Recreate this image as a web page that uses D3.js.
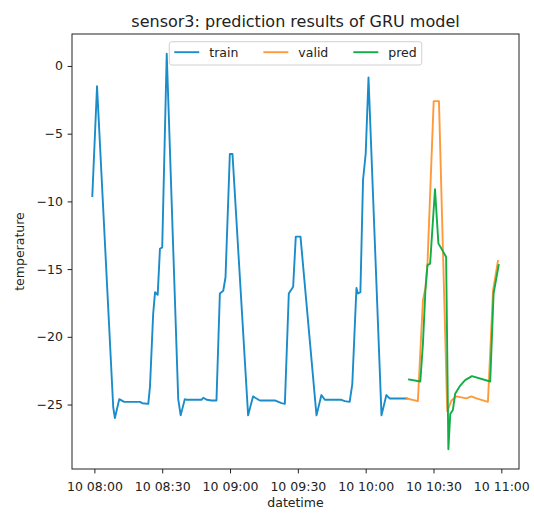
<!DOCTYPE html>
<html>
<head>
<meta charset="utf-8">
<script src="https://cdn.jsdelivr.net/npm/d3@7"></script>
<style>
  html, body { margin: 0; padding: 0; background: #fff; }
  svg { display: block; font-family: "DejaVu Sans", sans-serif; }
</style>
</head>
<body>
<svg id="chart" width="534" height="513"></svg>
<script>
// series (times on day 10, temperature)
const trainTimes = ["07:59:05","08:01:10","08:08:20","08:09:05","08:11:00","08:13:10","08:20:10","08:21:10","08:23:50","08:24:35",
  "08:26:00","08:26:50","08:28:00","08:29:00","08:30:00","08:32:00","08:37:05","08:38:10","08:40:00","08:40:50",
  "08:47:25","08:48:10","08:49:40","08:51:50","08:54:00","08:55:30","08:57:00","08:58:00","08:59:55","09:01:05",
  "09:08:00","09:10:10","09:13:10","09:19:50","09:22:45","09:24:15","09:26:00","09:27:55","09:29:05","09:31:10",
  "09:38:15","09:40:25","09:41:55","09:49:15","09:50:45","09:52:55","09:54:05","09:55:55","09:56:35","09:57:40",
  "09:58:50","10:00:00","10:01:15","10:07:00","10:09:10","10:10:35","10:18:15"];
const trainValues = [-9.6,-1.5,-25.2,-26.0,-24.6,-24.8,-24.8,-24.9,-24.95,-23.7,
  -18.3,-16.7,-16.9,-13.5,-13.4,0.9,-24.6,-25.8,-24.6,-24.65,
  -24.65,-24.5,-24.65,-24.7,-24.7,-16.8,-16.6,-15.6,-6.5,-6.5,
  -25.8,-24.4,-24.7,-24.7,-24.9,-24.95,-16.8,-16.3,-12.6,-12.6,
  -25.8,-24.3,-24.65,-24.65,-24.75,-24.8,-23.5,-16.4,-16.8,-16.7,
  -8.4,-6.5,-0.85,-25.8,-24.3,-24.55,-24.55];

const validTimes = ["10:18:15","10:23:05","10:25:20","10:26:25","10:27:20","10:30:05","10:32:25","10:36:05",
  "10:37:55","10:40:05","10:44:30","10:46:45","10:49:00","10:54:05","10:56:20","10:58:30"];
const validValues = [-24.55,-24.75,-17.3,-16.4,-14.6,-2.6,-2.6,-25.5,
  -24.7,-24.4,-24.55,-24.4,-24.55,-24.8,-16.6,-14.4];

const predTimes = ["10:19:10","10:24:10","10:25:20","10:26:25","10:27:20","10:28:30","10:30:40","10:32:10",
  "10:35:35","10:36:35","10:37:25","10:38:35","10:39:35","10:41:50","10:44:00","10:47:00","10:55:05","10:56:35","10:58:50"];
const predValues = [-23.15,-23.3,-20.5,-16.6,-14.7,-14.6,-9.1,-13.1,
  -14.1,-28.3,-25.7,-25.4,-24.2,-23.6,-23.2,-22.9,-23.3,-16.8,-14.7];

const seriesNames = ["train", "valid", "pred"];
const seriesColors = ["#1a8cca", "#ff9a3a", "#13ad48"];
const yTickValues = [-25, -20, -15, -10, -5, 0];

const parseTime = d3.timeParse("%Y-%m-%d %H:%M:%S");
const toPoints = (times, values) => times.map((t, i) => ({ t: parseTime("2021-01-10 " + t), v: values[i] }));

const series = [
  toPoints(trainTimes, trainValues),
  toPoints(validTimes, validValues),
  toPoints(predTimes, predValues)
];

const svg = d3.select("#chart");
const frame = { left: 72, right: 519, top: 34, bottom: 469 };
const fs = 12.5;

// matplotlib style 5% margins around the data extent
const all = series.flat();
const tExt = d3.extent(all, d => +d.t);
const vExt = d3.extent(all, d => d.v);
const tPad = (tExt[1] - tExt[0]) * 0.05;
const vPad = (vExt[1] - vExt[0]) * 0.05;

const x = d3.scaleTime()
  .domain([new Date(tExt[0] - tPad), new Date(tExt[1] + tPad)])
  .range([frame.left, frame.right]);
const y = d3.scaleLinear()
  .domain([vExt[0] - vPad, vExt[1] + vPad])
  .range([frame.bottom, frame.top]);

svg.append("clipPath").attr("id", "plot-clip")
  .append("rect")
  .attr("x", frame.left).attr("y", frame.top)
  .attr("width", frame.right - frame.left).attr("height", frame.bottom - frame.top);

const line = d3.line().x(d => x(d.t)).y(d => y(d.v));

svg.append("g")
  .attr("clip-path", "url(#plot-clip)")
  .selectAll("path")
  .data(series)
  .join("path")
  .attr("d", line)
  .attr("fill", "none")
  .attr("stroke", (d, i) => seriesColors[i])
  .attr("stroke-width", 1.9)
  .attr("stroke-linejoin", "round")
  .attr("stroke-linecap", "square");

// axes
const xAxis = svg.append("g")
  .attr("transform", `translate(0,${frame.bottom})`)
  .call(d3.axisBottom(x)
    .ticks(d3.timeMinute.every(30))
    .tickFormat(d3.timeFormat("%d %H:%M"))
    .tickSize(4.4)
    .tickPadding(8.5));

const yAxis = svg.append("g")
  .attr("transform", `translate(${frame.left},0)`)
  .call(d3.axisLeft(y)
    .tickValues(yTickValues)
    .tickFormat(d3.format("d"))
    .tickSize(4.4)
    .tickPadding(4.6));

[xAxis, yAxis].forEach(a => {
  a.select(".domain").remove();
  a.selectAll(".tick line").attr("stroke", "#222").attr("stroke-width", 1);
  a.selectAll(".tick text").attr("fill", "#222").attr("font-size", fs)
    .attr("font-family", "DejaVu Sans, sans-serif");
});

svg.append("rect")
  .attr("x", frame.left).attr("y", frame.top)
  .attr("width", frame.right - frame.left).attr("height", frame.bottom - frame.top)
  .attr("fill", "none").attr("stroke", "#222").attr("stroke-width", 1);

// labels
const cx = (frame.left + frame.right) / 2;
svg.append("text")
  .attr("x", cx).attr("y", 26.5)
  .attr("text-anchor", "middle")
  .attr("font-size", 16).attr("fill", "#222")
  .text("sensor3: prediction results of GRU model");

svg.append("text")
  .attr("x", cx).attr("y", 507)
  .attr("text-anchor", "middle")
  .attr("font-size", fs).attr("fill", "#222")
  .text("datetime");

svg.append("text")
  .attr("transform", `translate(24,${(frame.top + frame.bottom) / 2}) rotate(-90)`)
  .attr("text-anchor", "middle")
  .attr("font-size", fs).attr("fill", "#222")
  .text("temperature");

// legend, upper center, 3 columns
const legend = svg.append("g");
const legendBox = legend.append("rect")
  .attr("fill", "#fff").attr("fill-opacity", 0.8)
  .attr("stroke", "#d0d0d0").attr("stroke-width", 1)
  .attr("rx", 2.5);
let cursor = 5;
const rowY = 10.5;
seriesNames.forEach((name, i) => {
  legend.append("line")
    .attr("x1", cursor).attr("x2", cursor + 2 * fs)
    .attr("y1", rowY).attr("y2", rowY)
    .attr("stroke", seriesColors[i]).attr("stroke-width", 1.9);
  const label = legend.append("text")
    .attr("x", cursor + 2.8 * fs).attr("y", rowY + 4.4)
    .attr("font-size", fs).attr("fill", "#222")
    .text(name);
  const w = label.node().getComputedTextLength();
  cursor += 2.8 * fs + w + (i < seriesNames.length - 1 ? 2 * fs : 0);
});
const boxW = cursor + 5;
legendBox.attr("x", 0).attr("y", 0).attr("width", boxW).attr("height", 23.3);
legend.attr("transform", `translate(${cx - boxW / 2},41.7)`);
</script>
</body>
</html>
